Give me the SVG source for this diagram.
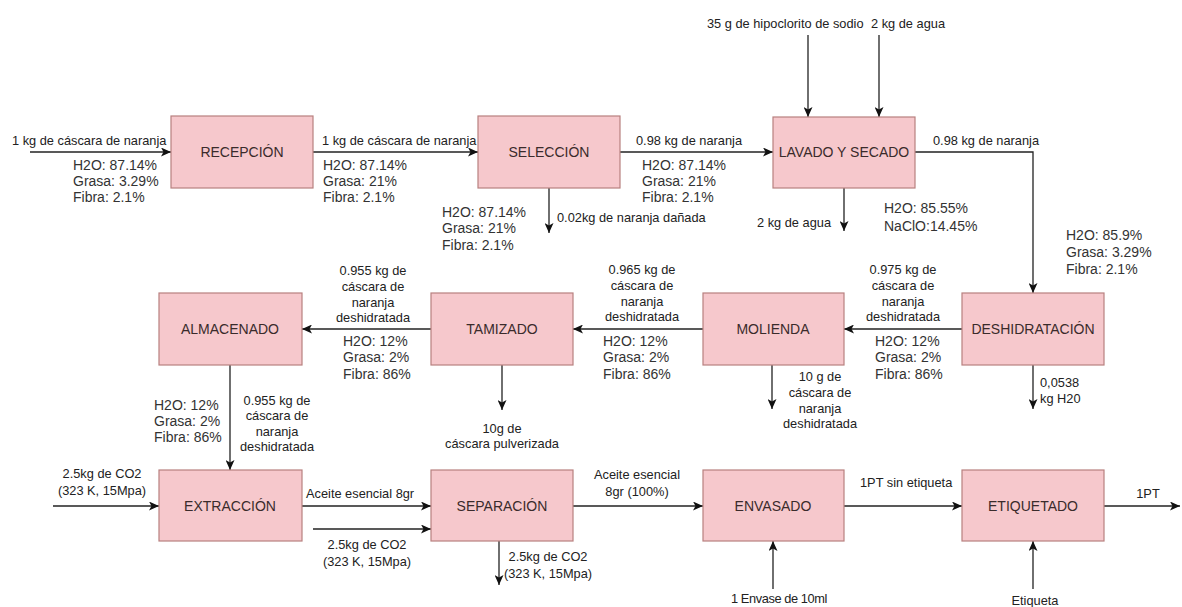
<svg xmlns="http://www.w3.org/2000/svg" width="1182" height="607" viewBox="0 0 1182 607">
<style>
.box{fill:#f6c8cc;stroke:#b8807f;stroke-width:1.2}
.bt{font-family:"Liberation Sans",Arial,sans-serif;font-size:14px;fill:#3a2b2b;text-anchor:middle}
.fl{font-family:"Liberation Sans",Arial,sans-serif;font-size:12.8px;fill:#222}
.cp{font-family:"Liberation Sans",Arial,sans-serif;font-size:14px;fill:#333}
.m{text-anchor:middle}
.ln{stroke:#222;stroke-width:1.3;fill:none}
</style>
<defs>
<marker id="ah" markerUnits="userSpaceOnUse" markerWidth="10" markerHeight="9" refX="10" refY="4.5" orient="auto">
<path d="M0,0 L10,4.5 L0,9 L2.5,4.5 z" fill="#111"/>
</marker>
</defs>
<rect width="1182" height="607" fill="#ffffff"/>

<g id="connectors">
<path class="ln" d="M30,152 H171" marker-end="url(#ah)"/>
<path class="ln" d="M313,152 H478" marker-end="url(#ah)"/>
<path class="ln" d="M620,152 H773" marker-end="url(#ah)"/>
<path class="ln" d="M549,188 V233" marker-end="url(#ah)"/>
<path class="ln" d="M808,35 V117" marker-end="url(#ah)"/>
<path class="ln" d="M879,35 V117" marker-end="url(#ah)"/>
<path class="ln" d="M844,188 V231" marker-end="url(#ah)"/>
<path class="ln" d="M915,152 H1033 V293" marker-end="url(#ah)"/>
<path class="ln" d="M1033,365 V409" marker-end="url(#ah)"/>
<path class="ln" d="M962,329 H844" marker-end="url(#ah)"/>
<path class="ln" d="M703,329 H573" marker-end="url(#ah)"/>
<path class="ln" d="M772,365 V409" marker-end="url(#ah)"/>
<path class="ln" d="M431,329 H302" marker-end="url(#ah)"/>
<path class="ln" d="M502,365 V410" marker-end="url(#ah)"/>
<path class="ln" d="M230,365 V470" marker-end="url(#ah)"/>
<path class="ln" d="M53,506 H159" marker-end="url(#ah)"/>
<path class="ln" d="M302,506 H431" marker-end="url(#ah)"/>
<path class="ln" d="M313,529 H431" marker-end="url(#ah)"/>
<path class="ln" d="M573,506 H703" marker-end="url(#ah)"/>
<path class="ln" d="M499,541 V585" marker-end="url(#ah)"/>
<path class="ln" d="M773,589 V541" marker-end="url(#ah)"/>
<path class="ln" d="M844,506 H962" marker-end="url(#ah)"/>
<path class="ln" d="M1104,506 H1180" marker-end="url(#ah)"/>
<path class="ln" d="M1033,589 V541" marker-end="url(#ah)"/>
</g>

<g id="labels">
<text class="fl" x="12" y="145">1 kg de cáscara de naranja</text>
<text class="cp" x="73" y="170">H2O: 87.14%</text>
<text class="cp" x="73" y="186">Grasa: 3.29%</text>
<text class="cp" x="73" y="202">Fibra: 2.1%</text>

<text class="fl" x="322" y="145">1 kg de cáscara de naranja</text>
<text class="cp" x="323" y="170">H2O: 87.14%</text>
<text class="cp" x="323" y="186">Grasa: 21%</text>
<text class="cp" x="323" y="202">Fibra: 2.1%</text>

<text class="fl" x="636" y="145">0.98 kg de naranja</text>
<text class="cp" x="642" y="170">H2O: 87.14%</text>
<text class="cp" x="642" y="186">Grasa: 21%</text>
<text class="cp" x="642" y="202">Fibra: 2.1%</text>

<text class="cp" x="442" y="217">H2O: 87.14%</text>
<text class="cp" x="442" y="233">Grasa: 21%</text>
<text class="cp" x="442" y="250">Fibra: 2.1%</text>
<text class="fl" x="557" y="222">0.02kg de naranja dañada</text>

<text class="fl" x="707" y="28">35 g de hipoclorito de sodio</text>
<text class="fl" x="871" y="28">2 kg de agua</text>

<text class="fl" x="757" y="227">2 kg de agua</text>
<text class="cp" x="884" y="213">H2O: 85.55%</text>
<text class="cp" x="884" y="231">NaClO:14.45%</text>

<text class="fl" x="933" y="145">0.98 kg de naranja</text>
<text class="cp" x="1066" y="240">H2O: 85.9%</text>
<text class="cp" x="1066" y="257">Grasa: 3.29%</text>
<text class="cp" x="1066" y="274">Fibra: 2.1%</text>

<text class="fl" x="1040" y="387">0,0538</text>
<text class="fl" x="1040" y="403">kg H20</text>

<text class="fl m" x="903" y="274">0.975 kg de</text>
<text class="fl m" x="903" y="290">cáscara de</text>
<text class="fl m" x="903" y="306">naranja</text>
<text class="fl m" x="903" y="321">deshidratada</text>
<text class="cp" x="875" y="346">H2O: 12%</text>
<text class="cp" x="875" y="362">Grasa: 2%</text>
<text class="cp" x="875" y="379">Fibra: 86%</text>

<text class="fl m" x="642" y="274">0.965 kg de</text>
<text class="fl m" x="642" y="290">cáscara de</text>
<text class="fl m" x="642" y="306">naranja</text>
<text class="fl m" x="642" y="321">deshidratada</text>
<text class="cp" x="603" y="346">H2O: 12%</text>
<text class="cp" x="603" y="362">Grasa: 2%</text>
<text class="cp" x="603" y="379">Fibra: 86%</text>

<text class="fl m" x="820" y="381">10 g de</text>
<text class="fl m" x="820" y="397">cáscara de</text>
<text class="fl m" x="820" y="413">naranja</text>
<text class="fl m" x="820" y="428">deshidratada</text>

<text class="fl m" x="373" y="275">0.955 kg de</text>
<text class="fl m" x="373" y="291">cáscara de</text>
<text class="fl m" x="373" y="307">naranja</text>
<text class="fl m" x="373" y="322">deshidratada</text>
<text class="cp" x="343" y="346">H2O: 12%</text>
<text class="cp" x="343" y="362">Grasa: 2%</text>
<text class="cp" x="343" y="379">Fibra: 86%</text>

<text class="fl m" x="502" y="433">10g de</text>
<text class="fl m" x="502" y="448">cáscara pulverizada</text>

<text class="cp" x="154" y="410">H2O: 12%</text>
<text class="cp" x="154" y="426">Grasa: 2%</text>
<text class="cp" x="154" y="442">Fibra: 86%</text>
<text class="fl m" x="277" y="405">0.955 kg de</text>
<text class="fl m" x="277" y="420">cáscara de</text>
<text class="fl m" x="277" y="436">naranja</text>
<text class="fl m" x="277" y="451">deshidratada</text>

<text class="fl m" x="102" y="478">2.5kg de CO2</text>
<text class="fl m" x="102" y="495">(323 K, 15Mpa)</text>

<text class="fl" x="306" y="498">Aceite esencial 8gr</text>
<text class="fl m" x="367" y="549">2.5kg de CO2</text>
<text class="fl m" x="367" y="566">(323 K, 15Mpa)</text>

<text class="fl m" x="637" y="479">Aceite esencial</text>
<text class="fl m" x="637" y="496">8gr (100%)</text>

<text class="fl m" x="548" y="561">2.5kg de CO2</text>
<text class="fl m" x="548" y="578">(323 K, 15Mpa)</text>

<text class="fl m" x="779" y="603" letter-spacing="-0.4">1 Envase de 10ml</text>

<text class="fl" x="860" y="487">1PT sin etiqueta</text>
<text class="fl m" x="1148" y="498">1PT</text>
<text class="fl m" x="1035" y="605">Etiqueta</text>
</g>

<g id="recepcion"><rect class="box" x="171" y="116" width="142" height="72"/><text class="bt" x="242" y="157">RECEPCIÓN</text></g>
<g id="seleccion"><rect class="box" x="478" y="116" width="142" height="72"/><text class="bt" x="549" y="157">SELECCIÓN</text></g>
<g id="lavado"><rect class="box" x="773" y="117" width="142" height="71"/><text class="bt" x="844" y="157">LAVADO Y SECADO</text></g>
<g id="deshidratacion"><rect class="box" x="962" y="293" width="142" height="72"/><text class="bt" x="1033" y="334">DESHIDRATACIÓN</text></g>
<g id="molienda"><rect class="box" x="703" y="293" width="141" height="72"/><text class="bt" x="773" y="334">MOLIENDA</text></g>
<g id="tamizado"><rect class="box" x="431" y="293" width="142" height="72"/><text class="bt" x="502" y="334">TAMIZADO</text></g>
<g id="almacenado"><rect class="box" x="159" y="293" width="143" height="72"/><text class="bt" x="230" y="334">ALMACENADO</text></g>
<g id="extraccion"><rect class="box" x="159" y="470" width="143" height="71"/><text class="bt" x="230" y="511">EXTRACCIÓN</text></g>
<g id="separacion"><rect class="box" x="431" y="470" width="142" height="71"/><text class="bt" x="502" y="511">SEPARACIÓN</text></g>
<g id="envasado"><rect class="box" x="703" y="470" width="141" height="71"/><text class="bt" x="773" y="511">ENVASADO</text></g>
<g id="etiquetado"><rect class="box" x="962" y="470" width="142" height="71"/><text class="bt" x="1033" y="511">ETIQUETADO</text></g>
</svg>
